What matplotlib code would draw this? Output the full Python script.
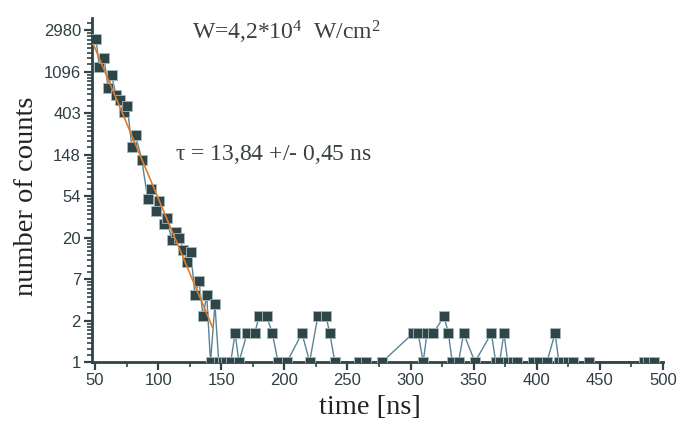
import numpy as np
import matplotlib
matplotlib.use("Agg")
import matplotlib.pyplot as plt
from matplotlib.ticker import FixedLocator, NullFormatter

# ---- data ----
decay_t = [50.8, 53.4, 57.1, 60.5, 63.2, 66.6, 69.8, 73.0, 75.6, 79.1, 82.1, 87.0,
           91.8, 94.4, 98.3, 100.5, 104.7, 106.8, 110.8, 113.8, 116.8, 120.0, 123.1,
           125.8, 129.2, 132.4, 135.6, 138.5]
decay_counts = [2384, 1212, 1508, 731, 1000, 622, 551, 416, 477, 179, 237, 131,
                51, 65, 38, 48, 28, 32, 19, 23, 20, 15, 11, 14, 5, 7, 3, 5]

tail_t = [141.5, 145.0, 148.0, 151.0, 154.0, 157.5, 161.0, 164.0, 170.5, 176.5, 180.0,
          186.0, 190.5, 195.0, 202.0, 214.0, 220.0, 226.5, 233.0, 236.0, 240.0, 259.0,
          265.0, 277.5, 302.0, 306.0, 310.0, 313.0, 318.0, 326.5, 330.0, 333.0, 338.0,
          342.0, 351.0, 364.0, 367.5, 370.5, 374.0, 377.0, 381.0, 384.0, 397.0, 402.0,
          408.0, 414.5, 417.5, 421.0, 425.0, 428.5, 441.0, 485.0, 488.0, 493.0]
tail_counts = [1, 4, 1, 1, 1, 1, 2, 1, 2, 2, 3,
               3, 2, 1, 1, 2, 1, 3, 3, 2, 1, 1,
               1, 1, 2, 2, 1, 2, 2, 3, 2, 1, 1,
               2, 1, 2, 1, 1, 2, 1, 1, 1, 1, 1,
               1, 2, 1, 1, 1, 1, 1, 1, 1, 1]

fit_tau = 13.84
fit_t_start, fit_t_end = 49.2, 143.2
fit_amp = 2040.0  # counts at fit_t_start

ytick_exp = [0, 1, 2, 3, 4, 5, 6, 7, 8]
ytick_labels = ['1', '2', '7', '20', '54', '148', '403', '1096', '2980']
xticks = [50, 100, 150, 200, 250, 300, 350, 400, 450, 500]

title_text = r'W=4,2*10$^{4}$  W/cm$^{2}$'
tau_text = r'$\tau$ = 13,84 +/- 0,45 ns'

# ---- style ----
plt.rcParams['mathtext.fontset'] = 'custom'
plt.rcParams['mathtext.rm'] = 'Liberation Serif'
plt.rcParams['mathtext.it'] = 'Liberation Serif:italic'
plt.rcParams['mathtext.default'] = 'rm'

axis_col = '#2e4447'
fig = plt.figure(figsize=(6.96, 4.25), dpi=100)
ax = fig.add_axes([92/696, 63/425, (663-92)/696, 344/425])

t_all = decay_t + tail_t
c_all = decay_counts + tail_counts
ax.plot(t_all, c_all, '-', color='#5a8494', lw=1.0, zorder=2)
ax.plot(t_all, c_all, 's', ms=7.4, mfc='#2f4649', mec='#a9b9bc', mew=0.6,
        ls='none', zorder=3)

ft = np.linspace(fit_t_start, fit_t_end, 100)
ax.plot(ft, fit_amp * np.exp(-(ft - fit_t_start) / fit_tau), color='#e07a2c',
        lw=1.2, zorder=4)

ax.set_yscale('log')
ax.set_ylim(1, np.exp(8.29))
ax.set_xlim(47.6, 500)

ax.yaxis.set_major_locator(FixedLocator([np.exp(k) for k in ytick_exp]))
ax.set_yticklabels(ytick_labels)
minor = []
for k in range(0, 9):
    lo, hi = np.exp(k), np.exp(k + 1)
    for j in range(1, 9):
        v = lo + j * (hi - lo) / 9
        if v < np.exp(8.29):
            minor.append(v)
ax.yaxis.set_minor_locator(FixedLocator(minor))
ax.yaxis.set_minor_formatter(NullFormatter())
ax.set_xticks(xticks)
ax.xaxis.set_minor_locator(FixedLocator([75, 125, 175, 225, 275, 325, 375, 425, 475]))
ax.xaxis.set_minor_formatter(NullFormatter())

for s in ['top', 'right']:
    ax.spines[s].set_visible(False)
for s in ['left', 'bottom']:
    ax.spines[s].set_color(axis_col)
    ax.spines[s].set_linewidth(2.0)

ax.tick_params(which='major', direction='out', length=6, width=1.6, color=axis_col,
               labelsize=12, labelcolor='#2e3f42', pad=2)
ax.tick_params(which='minor', direction='out', length=3.5, width=1.2, color=axis_col)
for lab in ax.get_xticklabels() + ax.get_yticklabels():
    lab.set_family('Liberation Sans')

fig.text(370/696, 1 - 408/425, 'time [ns]', family='Liberation Serif', fontsize=20.5,
         color='#222222', ha='center', va='center')
fig.text(27/696, 1 - 196/425, 'number of counts', family='Liberation Serif',
         fontsize=20.5, color='#222222', ha='center', va='center', rotation=90)

fig.text(192/696, 1 - 32/425, title_text, family='Liberation Serif', fontsize=17,
         color='#3a4040', va='center', ha='left')
fig.text(175/696, 1 - 154/425, tau_text, family='Liberation Serif', fontsize=17,
         color='#3a4040', va='center', ha='left')

fig.savefig('out.png', dpi=100)
